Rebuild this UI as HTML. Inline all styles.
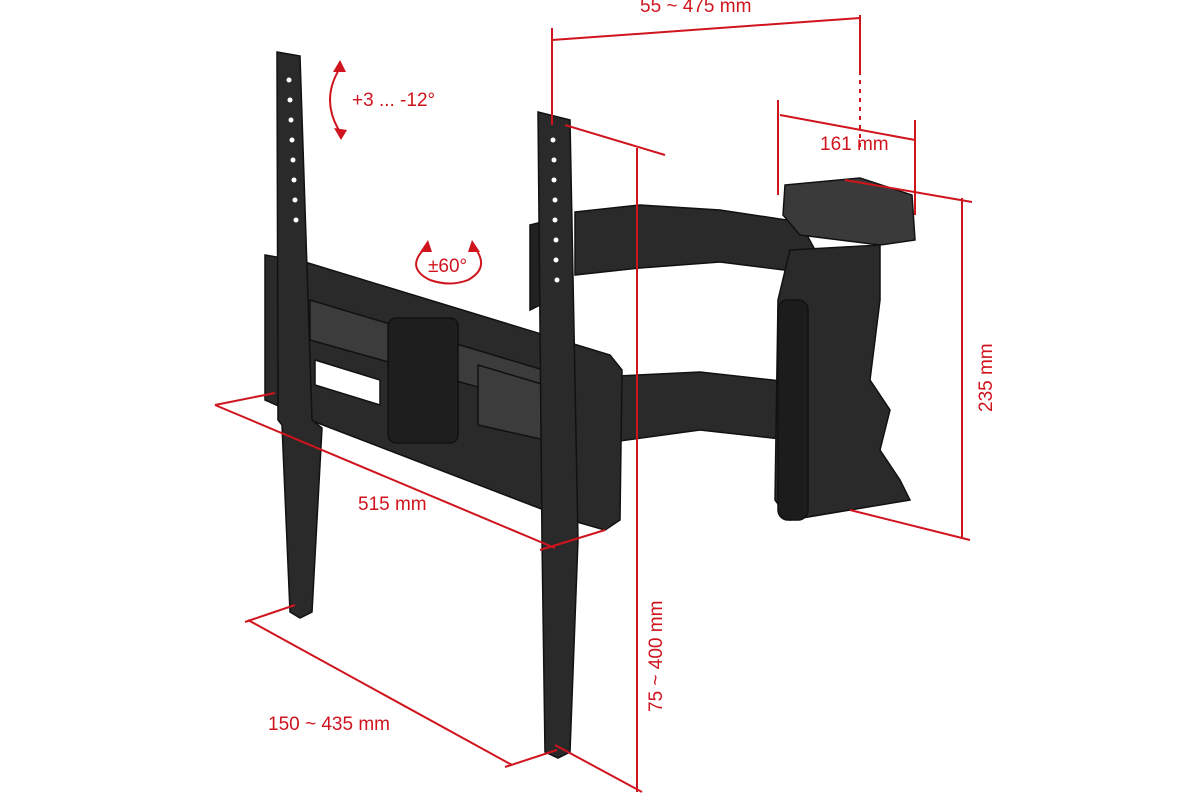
<!DOCTYPE html>
<html><head><meta charset="utf-8"><style>
html,body{margin:0;padding:0;background:#fff;}
svg{display:block;}
text{font-family:"Liberation Sans",sans-serif;font-size:19px;fill:#d0141e;}
</style></head><body>
<svg width="1200" height="800" viewBox="0 0 1200 800" xmlns="http://www.w3.org/2000/svg">
<rect width="1200" height="800" fill="#fff"/>
<!-- bracket body -->
<g fill="#2a2a2a" stroke="#111" stroke-width="1.5">
  <!-- upper arm -->
  <polygon points="575,212 640,205 720,210 800,222 815,250 800,272 720,262 640,268 575,275"/>
  <!-- lower arm -->
  <polygon points="575,378 700,372 790,382 805,410 790,440 700,430 590,445"/>
  <!-- vertical joint column -->
  <polygon points="790,250 880,245 880,300 870,380 890,410 880,450 900,480 910,500 850,510 790,520 775,500 778,300"/>
  <rect x="778" y="300" width="30" height="220" rx="10" fill="#1c1c1c"/>
  <!-- VESA plate -->
  <polygon points="785,185 860,178 912,195 915,240 880,245 800,235 783,215" fill="#3a3a3a"/>
  <!-- frame horizontal -->
  <polygon points="265,255 305,262 610,355 622,370 620,520 605,530 570,520 310,420 265,400"/>
  <polygon points="310,300 560,375 560,410 310,340" fill="#3c3c3c"/>
  <polygon points="315,360 380,380 380,405 315,385" fill="#fff"/>
  <polygon points="478,365 545,385 545,440 478,425" fill="#3c3c3c"/>
  <rect x="388" y="318" width="70" height="125" rx="8" fill="#1e1e1e"/>
  <polygon points="530,225 550,220 550,300 530,310" fill="#222"/>
  <!-- left rail -->
  <polygon points="277,52 300,56 312,420 322,428 312,612 300,618 290,612 282,425 278,420"/>
  <!-- right rail -->
  <polygon points="538,112 570,120 578,540 570,752 558,758 545,752 542,540"/>
</g>
<g fill="#fff">
  <circle cx="289" cy="80" r="2.5"/><circle cx="290" cy="100" r="2.5"/><circle cx="291" cy="120" r="2.5"/><circle cx="292" cy="140" r="2.5"/><circle cx="293" cy="160" r="2.5"/><circle cx="294" cy="180" r="2.5"/><circle cx="295" cy="200" r="2.5"/><circle cx="296" cy="220" r="2.5"/>
  <circle cx="553" cy="140" r="2.5"/><circle cx="554" cy="160" r="2.5"/><circle cx="554" cy="180" r="2.5"/><circle cx="555" cy="200" r="2.5"/><circle cx="555" cy="220" r="2.5"/><circle cx="556" cy="240" r="2.5"/><circle cx="556" cy="260" r="2.5"/><circle cx="557" cy="280" r="2.5"/>
</g>
<!-- red dimension lines -->
<g stroke="#d0141e" stroke-width="2" fill="none">
  <line x1="552" y1="40" x2="860" y2="18"/>
  <line x1="552" y1="28" x2="552" y2="125"/>
  <line x1="860" y1="15" x2="860" y2="75"/>
  <line x1="860" y1="80" x2="860" y2="150" stroke-dasharray="4,5"/>
  <line x1="780" y1="115" x2="915" y2="140"/>
  <line x1="778" y1="100" x2="778" y2="195"/>
  <line x1="915" y1="120" x2="915" y2="215"/>
  <line x1="845" y1="180" x2="972" y2="202"/>
  <line x1="850" y1="510" x2="970" y2="540"/>
  <line x1="962" y1="198" x2="962" y2="538"/>
  <line x1="565" y1="125" x2="665" y2="155"/>
  <line x1="637" y1="148" x2="637" y2="792"/>
  <line x1="555" y1="745" x2="642" y2="792"/>
  <line x1="215" y1="405" x2="555" y2="548"/>
  <line x1="215" y1="405" x2="275" y2="393"/>
  <line x1="540" y1="550" x2="605" y2="530"/>
  <line x1="248" y1="620" x2="512" y2="765"/>
  <line x1="245" y1="622" x2="295" y2="605"/>
  <line x1="505" y1="767" x2="557" y2="750"/>
  <path d="M340,68 Q320,100 340,132"/>
  <path d="M425,248 Q405,268 430,280 Q450,287 468,280 Q490,268 475,248"/>
</g>
<g fill="#d0141e">
  <polygon points="340,60 333,72 346,72"/>
  <polygon points="341,140 334,128 347,130"/>
  <polygon points="428,240 420,252 432,252"/>
  <polygon points="472,240 468,252 480,252"/>
</g>
<text x="640" y="12">55 ~ 475 mm</text>
<text x="820" y="150">161 mm</text>
<text x="352" y="106">+3 ... -12°</text>
<text x="428" y="272">±60°</text>
<text x="358" y="510">515 mm</text>
<text x="268" y="730">150 ~ 435 mm</text>
<text transform="translate(992,412) rotate(-90)">235 mm</text>
<text transform="translate(662,712) rotate(-90)">75 ~ 400 mm</text>
</svg>
</body></html>
